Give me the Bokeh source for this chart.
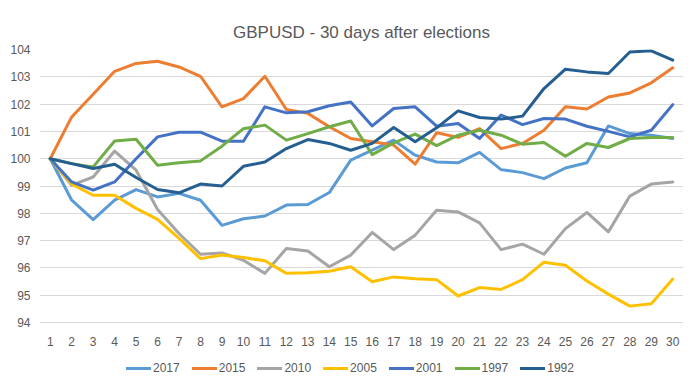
from bokeh.plotting import figure
from bokeh.models import Legend, LegendItem, FactorRange, Range1d, FixedTicker
from bokeh.core.properties import value
from bokeh.embed import file_html
from bokeh.resources import INLINE

days = [str(i) for i in range(1, 31)]

y_ticks = [94, 95, 96, 97, 98, 99, 100, 101, 102, 103, 104]

s2017 = [100, 98.48, 97.77, 98.48, 98.87, 98.6, 98.73, 98.48, 97.56, 97.8,
         97.9, 98.3, 98.32, 98.76, 99.95, 100.31, 100.68, 100.13, 99.88, 99.85,
         100.23, 99.6, 99.49, 99.27, 99.66, 99.85, 101.2, 100.92, 100.86, 100.74]
s2015 = [100, 101.53, 102.36, 103.2, 103.49, 103.57, 103.36, 103.02, 101.9, 102.2,
         103.02, 101.8, 101.66, 101.17, 100.74, 100.62, 100.5, 99.8, 100.95, 100.78,
         101.1, 100.37, 100.56, 101.04, 101.9, 101.82, 102.26, 102.41, 102.78, 103.33]
s2010 = [100, 99.03, 99.33, 100.28, 99.58, 98.14, 97.26, 96.5, 96.55, 96.28,
         95.8, 96.71, 96.62, 96.04, 96.47, 97.3, 96.67, 97.2, 98.11, 98.05,
         97.65, 96.67, 96.87, 96.5, 97.44, 98.03, 97.32, 98.63, 99.07, 99.15]
s2005 = [100, 99.07, 98.66, 98.66, 98.18, 97.78, 97.08, 96.34, 96.47, 96.38,
         96.26, 95.8, 95.82, 95.88, 96.04, 95.49, 95.67, 95.6, 95.57, 94.97,
         95.28, 95.21, 95.57, 96.21, 96.1, 95.52, 95.04, 94.6, 94.69, 95.59]
s2001 = [100, 99.15, 98.85, 99.15, 100.0, 100.8, 100.97, 100.97, 100.64, 100.64,
         101.9, 101.68, 101.72, 101.94, 102.08, 101.2, 101.84, 101.9, 101.19, 101.29,
         100.74, 101.6, 101.25, 101.47, 101.45, 101.19, 101.0, 100.8, 101.04, 101.98]
s1997 = [100, 99.82, 99.7, 100.65, 100.71, 99.76, 99.85, 99.92, 100.46, 101.1,
         101.23, 100.68, 100.92, 101.17, 101.38, 100.15, 100.58, 100.9, 100.48, 100.86,
         101.04, 100.86, 100.53, 100.59, 100.09, 100.56, 100.41, 100.74, 100.78, 100.78]
s1992 = [100, 99.82, 99.64, 99.8, 99.31, 98.87, 98.75, 99.07, 99.0, 99.72,
         99.88, 100.37, 100.7, 100.56, 100.31, 100.56, 101.14, 100.62, 101.13, 101.75,
         101.51, 101.45, 101.56, 102.57, 103.28, 103.18, 103.12, 103.91, 103.95, 103.61]

series_names = ["2017", "2015", "2010", "2005", "2001", "1997", "1992"]
series_values = [s2017, s2015, s2010, s2005, s2001, s1997, s1992]
colors = ["#5B9BD5", "#ED7D31", "#A5A5A5", "#FFC000", "#4472C4", "#70AD47", "#255E91"]

FONT = "Liberation Sans"
TXT = "#595959"

# layout: value-axis spans 94..104 over 273px; frame extends below it to hold
# the category labels and the legend
PX_PER_UNIT = 27.3
FRAME_H = 336
y_top = y_ticks[-1]
y_bottom = y_top - FRAME_H / PX_PER_UNIT

p = figure(frame_width=644, frame_height=FRAME_H, x_range=FactorRange(*days),
           y_range=Range1d(y_bottom, y_top),
           output_backend="svg", toolbar_location=None,
           min_border_left=39, min_border_right=15, min_border_top=49, min_border_bottom=0)

p.title.text = "GBPUSD - 30 days after elections"
p.title.align = "center"
p.title.text_font = FONT
p.title.text_font_size = "17px"
p.title.text_font_style = "normal"
p.title.text_color = TXT
p.title.standoff = 16

p.outline_line_color = None
p.xgrid.grid_line_color = None
p.ygrid.grid_line_color = "#D9D9D9"
p.ygrid.grid_line_width = 1
p.yaxis.ticker = FixedTicker(ticks=y_ticks)
p.yaxis.axis_line_color = None
p.yaxis.major_tick_line_color = None
p.yaxis.minor_tick_line_color = None
p.yaxis.major_tick_out = 0
p.yaxis.minor_tick_out = 0
p.yaxis.major_label_text_font = FONT
p.yaxis.major_label_text_font_size = "12px"
p.yaxis.major_label_text_color = TXT
p.yaxis.major_label_standoff = 9

p.xaxis.visible = False

# category labels, drawn under the lowest gridline through the category scale
p.text(x=days, y=[y_ticks[0]] * len(days), text=days,
       text_align="center", text_baseline="middle", y_offset=19,
       text_font=value(FONT), text_font_size="12px", text_color=TXT)

items = []
for name, vals, c in zip(series_names, series_values, colors):
    r = p.line(days, vals, line_color=c, line_width=3, line_join="round", line_cap="round")
    items.append(LegendItem(label=name, renderers=[r]))

legend = Legend(items=items, orientation="horizontal", location=(87, 10),
                border_line_color=None, background_fill_alpha=0,
                label_text_font=FONT, label_text_font_size="12px", label_text_color=TXT,
                glyph_width=25, glyph_height=12, label_standoff=2, spacing=12,
                padding=0, margin=0)
p.add_layout(legend, "center")

open("out.html", "w").write(file_html(p, INLINE))
